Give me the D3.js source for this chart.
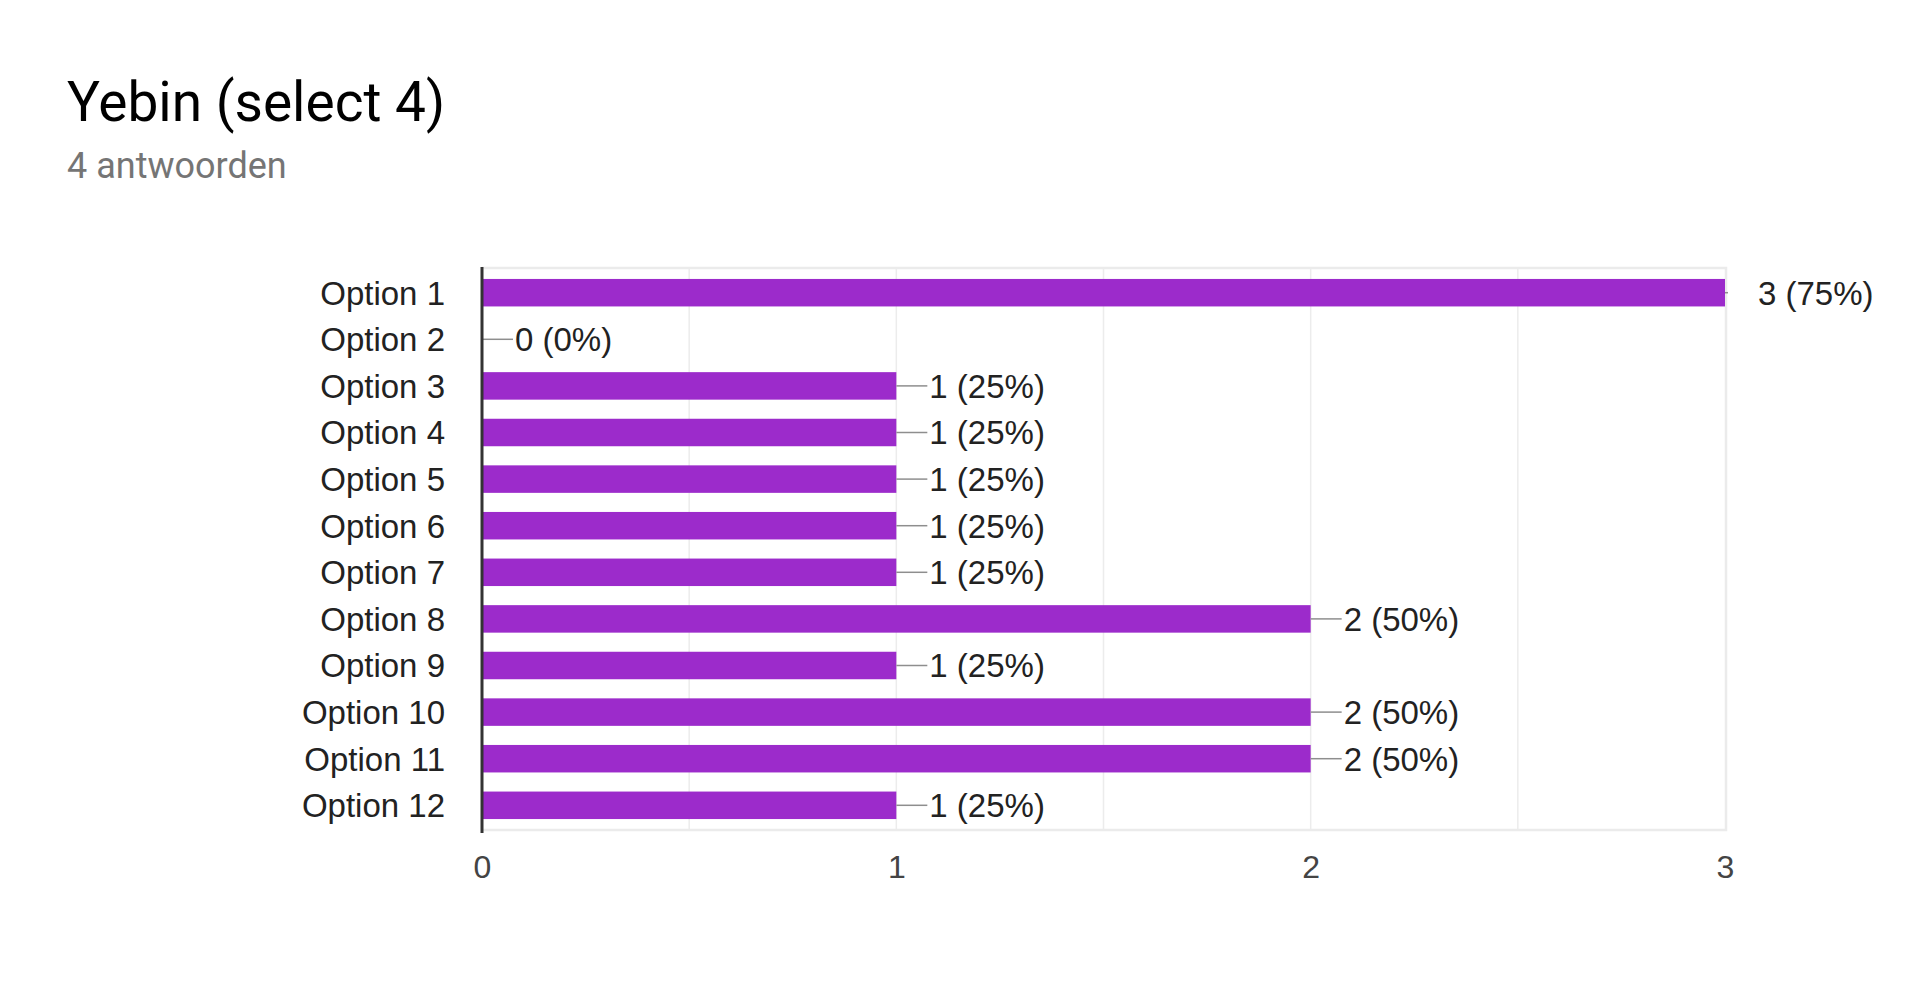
<!DOCTYPE html>
<html>
<head>
<meta charset="utf-8">
<script src="https://cdn.jsdelivr.net/npm/d3@7"></script>
<style>
  html, body { margin: 0; padding: 0; background: #fff; }
  svg { display: block; }
</style>
</head>
<body>
<svg id="chart" width="1920" height="996"></svg>
<script>
const titleText = "Yebin (select 4)";
const subtitleText = "4 antwoorden";
const totalResponses = 4;
const categories = ["Option 1","Option 2","Option 3","Option 4","Option 5","Option 6","Option 7","Option 8","Option 9","Option 10","Option 11","Option 12"];
const counts = [3,0,1,1,1,1,1,2,1,2,2,1];
const tickValues = [0,1,2,3];
const gridValues = [0.5,1,1.5,2,2.5];

(function () {
const svg = d3.select("#chart");
const pLeft = 482, pRight = 1725, pTop = 268, pBottom = 830;
const barColor = "#9c2bcb";
const chartFont = "'Liberation Sans', Arial, sans-serif";

svg.append("text").attr("x", 67).attr("y", 121)
  .attr("font-family", "Roboto, 'Noto Sans', sans-serif").attr("font-size", 55)
  .attr("fill", "#000").text(titleText);
svg.append("text").attr("x", 67).attr("y", 178)
  .attr("font-family", "Roboto, 'Noto Sans', sans-serif").attr("font-size", 36)
  .attr("fill", "#757575").text(subtitleText);

const x = d3.scaleLinear().domain([0, 3]).range([pLeft, pRight]);
const y = d3.scaleBand().domain(categories).range([pTop, pBottom])
  .paddingInner(0.41).paddingOuter(0.235);

// grid
svg.append("g").selectAll("line").data(gridValues).join("line")
  .attr("x1", d => x(d)).attr("x2", d => x(d))
  .attr("y1", pTop).attr("y2", pBottom)
  .attr("stroke", "#ececec").attr("stroke-width", 1.5);

// border (top, right, bottom)
svg.append("path")
  .attr("d", `M${pLeft},${pTop}H${pRight + 1}V${pBottom}H${pLeft}`)
  .attr("fill", "none").attr("stroke", "#ebebeb").attr("stroke-width", 2.5);

// bars
svg.append("g").selectAll("rect").data(counts).join("rect")
  .attr("x", x(0))
  .attr("y", (d, i) => y(categories[i]))
  .attr("width", d => x(d) - x(0))
  .attr("height", y.bandwidth())
  .attr("fill", barColor);

// leader lines
svg.append("g").selectAll("line").data(counts).join("line")
  .attr("x1", d => x(d))
  .attr("x2", d => Math.min(x(d) + 31, pRight + 3))
  .attr("y1", (d, i) => y(categories[i]) + y.bandwidth() / 2)
  .attr("y2", (d, i) => y(categories[i]) + y.bandwidth() / 2)
  .attr("stroke", "#8e8e8e").attr("stroke-width", 1.5);

// value labels
svg.append("g").selectAll("text").data(counts).join("text")
  .attr("x", d => x(d) + 33)
  .attr("y", (d, i) => y(categories[i]) + y.bandwidth() / 2)
  .attr("dy", "0.36em")
  .attr("font-family", chartFont).attr("font-size", 33)
  .attr("fill", "#222")
  .text(d => `${d} (${Math.round(d / totalResponses * 100)}%)`);

// y axis labels
const yAxis = d3.axisLeft(y).tickSize(0).tickPadding(37);
const gy = svg.append("g").attr("transform", `translate(${pLeft},0)`).call(yAxis);
gy.select(".domain").remove();
gy.selectAll("text")
  .attr("font-family", chartFont).attr("font-size", 33)
  .attr("fill", "#222").attr("dy", "0.36em");

// x axis labels
const xAxis = d3.axisBottom(x).tickValues(tickValues).tickSize(0).tickPadding(25).tickFormat(d3.format("d"));
const gx = svg.append("g").attr("transform", `translate(0,${pBottom})`).call(xAxis);
gx.select(".domain").remove();
gx.selectAll("text")
  .attr("font-family", chartFont).attr("font-size", 32)
  .attr("fill", "#444");

// left axis line
svg.append("line").attr("x1", pLeft).attr("x2", pLeft)
  .attr("y1", pTop - 1).attr("y2", pBottom + 3)
  .attr("stroke", "#333").attr("stroke-width", 3);
})();
</script>
</body>
</html>
